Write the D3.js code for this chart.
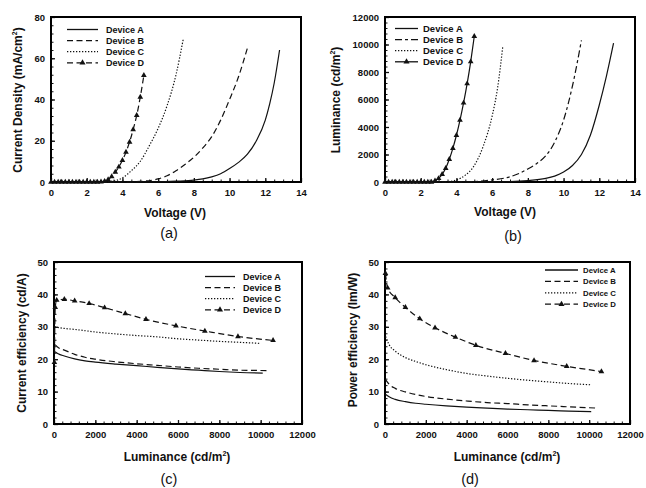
<!DOCTYPE html>
<html lang="en">
<head>
<meta charset="UTF-8">
<title>OLED device characteristics</title>
<script src="https://cdn.jsdelivr.net/npm/d3@7"></script>
<style>
  body { margin: 0; background: #fff; }
  text { font-family: Arial, "Liberation Sans", sans-serif; fill: #111; }
  .tick text { font-size: 9.5px; font-weight: bold; }
  .title { font-size: 12px; font-weight: bold; }
  .sub { font-size: 14.5px; }
  .legend text { font-weight: bold; }
</style>
</head>
<body>
<script>
// ---- data ----
var devices = ["Device A", "Device B", "Device C", "Device D"];

// (a) current density vs voltage
var jvA_V = [0, 2, 4, 6, 7, 8, 8.5, 9, 9.5, 10, 10.5, 11, 11.5, 12, 12.25, 12.5, 12.8];
var jvA_J = [0, 0, 0, 0.1, 0.4, 0.9, 1.5, 2.5, 4, 6.5, 9.5, 13.5, 20, 30, 38, 48, 64];
var jvB_V = [0, 2, 4, 5, 6, 6.5, 7, 7.5, 8, 8.5, 9, 9.5, 10, 10.5, 11];
var jvB_J = [0, 0, 0, 0.3, 1.5, 3, 5.5, 8.5, 12, 16.5, 22, 30, 40, 51, 65];
var jvC_V = [0, 2, 3, 3.5, 4, 4.5, 5, 5.5, 6, 6.5, 7, 7.4];
var jvC_J = [0, 0, 0.1, 0.5, 2, 5.5, 10, 17.5, 26, 37, 52, 69];
var jvD_V = [0, 0.2, 0.4, 0.6, 0.8, 1.0, 1.2, 1.4, 1.6, 1.8, 2.0, 2.2, 2.4, 2.6, 2.8, 3.0, 3.2, 3.4, 3.6, 3.8, 4.0, 4.2, 4.4, 4.6, 4.8, 5.0, 5.2];
var jvD_J = [0, 0, 0, 0, 0, 0, 0, 0, 0, 0, 0, 0, 0, 0, 0.1, 0.4, 1.2, 2.6, 4.8, 7.3, 10.5, 14.5, 19.4, 25.4, 32.3, 41.2, 51.7];

// (b) luminance vs voltage
var lvA_V = [0, 4, 6, 7, 8, 9, 9.5, 10, 10.5, 11, 11.5, 12, 12.4, 12.8];
var lvA_L = [0, 0, 10, 30, 100, 260, 430, 720, 1200, 2000, 3400, 5600, 7700, 10100];
var lvB_V = [0, 4, 5, 6, 7, 7.5, 8, 8.5, 9, 9.5, 10, 10.5, 11];
var lvB_L = [0, 0, 30, 150, 380, 620, 950, 1350, 1900, 2900, 4500, 7000, 10300];
var lvC_V = [0, 2, 3, 3.5, 4, 4.5, 5, 5.5, 6, 6.3, 6.6];
var lvC_L = [0, 0, 5, 30, 150, 500, 1200, 2600, 4800, 6800, 9900];
var lvD_V = [0, 0.2, 0.4, 0.6, 0.8, 1.0, 1.2, 1.4, 1.6, 1.8, 2.0, 2.2, 2.4, 2.6, 2.8, 3.0, 3.2, 3.4, 3.6, 3.8, 4.0, 4.2, 4.4, 4.6, 4.8, 5.0];
var lvD_L = [0, 0, 0, 0, 0, 0, 0, 0, 0, 0, 0, 0, 0, 0, 80, 260, 560, 1000, 1650, 2450, 3400, 4500, 5750, 7150, 8750, 10600];

// (c) current efficiency vs luminance
var ceA_L = [50, 200, 500, 1000, 1500, 2000, 3000, 4000, 5000, 6000, 7000, 8000, 9000, 10100];
var ceA_E = [22.3, 21.7, 21, 20.1, 19.5, 19.1, 18.5, 18, 17.5, 17, 16.6, 16.2, 15.9, 15.7];
var ceB_L = [50, 200, 500, 1000, 1500, 2000, 3000, 4000, 5000, 6000, 7000, 8000, 9000, 10300];
var ceB_E = [24.5, 23.6, 22.8, 21.5, 20.6, 20, 19.2, 18.6, 18.1, 17.6, 17.2, 16.9, 16.6, 16.5];
var ceC_L = [30, 500, 1000, 2000, 3000, 4000, 5000, 6000, 7000, 8000, 9000, 9950];
var ceC_E = [30, 29.5, 29.2, 28.4, 27.8, 27.3, 26.9, 26.3, 25.9, 25.5, 25.2, 24.9];
var ceD_L = [20, 60, 130, 500, 1000, 1700, 2450, 3450, 4450, 5900, 7300, 8900, 10600];
var ceD_E = [19, 36, 38.2, 38.5, 38, 37.2, 35.9, 34.1, 32.3, 30.3, 28.7, 27, 25.8];

// (d) power efficiency vs luminance
var peA_L = [20, 200, 500, 1000, 1500, 2000, 3000, 4000, 5000, 6000, 7000, 8000, 9000, 10100];
var peA_E = [9.2, 8.4, 7.6, 6.9, 6.4, 6.1, 5.6, 5.2, 4.9, 4.6, 4.4, 4.2, 4.0, 3.8];
var peB_L = [20, 200, 500, 1000, 1500, 2000, 3000, 4000, 5000, 6000, 7000, 8000, 9000, 10400];
var peB_E = [13.8, 12.3, 11, 9.9, 9.1, 8.5, 7.7, 7.1, 6.6, 6.3, 5.9, 5.6, 5.3, 4.9];
var peC_L = [30, 200, 500, 1000, 1500, 2000, 3000, 4000, 5000, 6000, 7000, 8000, 9000, 10100];
var peC_E = [27, 24.5, 22.5, 20.5, 19.3, 18.3, 16.8, 15.6, 14.8, 14.1, 13.5, 13, 12.5, 12.1];
var peD_L = [20, 130, 500, 1000, 1700, 2450, 3450, 4450, 5900, 7300, 8900, 10600];
var peD_E = [46.5, 42, 39, 36, 32.5, 29.7, 26.8, 24.3, 21.8, 19.6, 17.8, 16.2];

// tick values
var voltTicks = [0, 2, 4, 6, 8, 10, 12, 14];
var lumTicks = [0, 2000, 4000, 6000, 8000, 10000, 12000];
var jTicks = [0, 20, 40, 60, 80];
var effTicks = [0, 10, 20, 30, 40, 50];

function zip(xs, ys) { return xs.map(function (x, i) { return [x, ys[i]]; }); }

var W = 646, H = 488;
var svg = d3.select("body").append("svg").attr("width", W).attr("height", H);

var styles = {
  solid: null,
  dash: "6,3.5",
  dot: "1.3,1.7",
  dashdot: "7,3,3,3"
};

function drawPanel(p) {
  var x = d3.scaleLinear().domain(p.xDomain).range([p.l, p.r]);
  var y = d3.scaleLinear().domain(p.yDomain).range([p.b, p.t]);
  var g = svg.append("g");

  // minor ticks (inside)
  var xMinor = d3.range(p.xDomain[0], p.xDomain[1] + 1e-9, p.xMinor);
  var yMinor = d3.range(p.yDomain[0], p.yDomain[1] + 1e-9, p.yMinor);
  g.append("g").attr("transform", "translate(0," + p.b + ")")
    .call(d3.axisTop(x).tickValues(xMinor).tickSize(2.5).tickFormat(""))
    .call(function (s) { s.select(".domain").remove(); s.selectAll("line").attr("stroke", "#111"); });
  g.append("g").attr("transform", "translate(" + p.l + ",0)")
    .call(d3.axisRight(y).tickValues(yMinor).tickSize(2.5).tickFormat(""))
    .call(function (s) { s.select(".domain").remove(); s.selectAll("line").attr("stroke", "#111"); });

  // major ticks + labels
  var xa = g.append("g").attr("transform", "translate(0," + p.b + ")")
    .call(d3.axisBottom(x).tickValues(p.xTicks).tickSize(0).tickPadding(7).tickFormat(d3.format("d")));
  xa.select(".domain").remove();
  g.append("g").attr("transform", "translate(0," + p.b + ")")
    .call(d3.axisTop(x).tickValues(p.xTicks).tickSize(4).tickFormat(""))
    .call(function (s) { s.select(".domain").remove(); s.selectAll("line").attr("stroke", "#111").attr("stroke-width", 1.3); });
  var ya = g.append("g").attr("transform", "translate(" + p.l + ",0)")
    .call(d3.axisLeft(y).tickValues(p.yTicks).tickSize(0).tickPadding(6).tickFormat(d3.format("d")));
  ya.select(".domain").remove();
  g.append("g").attr("transform", "translate(" + p.l + ",0)")
    .call(d3.axisRight(y).tickValues(p.yTicks).tickSize(4).tickFormat(""))
    .call(function (s) { s.select(".domain").remove(); s.selectAll("line").attr("stroke", "#111").attr("stroke-width", 1.3); });

  // frame
  g.append("rect").attr("x", p.l).attr("y", p.t).attr("width", p.r - p.l).attr("height", p.b - p.t)
    .attr("fill", "none").attr("stroke", "#000").attr("stroke-width", 2);

  // curves
  var line = d3.line().x(function (d) { return x(d[0]); }).y(function (d) { return y(d[1]); })
    .curve(d3.curveMonotoneX);
  p.series.forEach(function (s) {
    g.append("path").datum(s.data).attr("d", line).attr("fill", "none")
      .attr("stroke", "#111").attr("stroke-width", 1.2)
      .attr("stroke-dasharray", styles[s.style]);
    if (s.marker) {
      g.selectAll(null).data(s.data).enter().append("path")
        .attr("d", d3.symbol().type(d3.symbolTriangle).size(14))
        .attr("transform", function (d) { return "translate(" + x(d[0]) + "," + y(d[1]) + ")"; })
        .attr("fill", "#111");
    }
  });

  // legend
  var lg = g.append("g").attr("class", "legend");
  p.series.forEach(function (s, i) {
    var yy = p.leg.y + i * p.leg.dy;
    lg.append("line").attr("x1", p.leg.x1).attr("x2", p.leg.x2).attr("y1", yy).attr("y2", yy)
      .attr("stroke", "#111").attr("stroke-width", 1.3).attr("stroke-dasharray", styles[s.style]);
    if (s.marker) {
      lg.append("path").attr("d", d3.symbol().type(d3.symbolTriangle).size(16))
        .attr("transform", "translate(" + (p.leg.x1 + p.leg.x2) / 2 + "," + yy + ")").attr("fill", "#111");
    }
    lg.append("text").attr("x", p.leg.tx).attr("y", yy + p.leg.fs * 0.36)
      .attr("font-size", p.leg.fs + "px").text(devices[i]);
  });

  // axis titles
  var xt = svg.append("text").attr("class", "title").attr("text-anchor", "middle")
    .attr("x", p.xTitle.x).attr("y", p.xTitle.y);
  xt.append("tspan").text(p.xTitle.text);
  if (p.xTitle.sup) {
    xt.append("tspan").attr("font-size", "7px").attr("dy", -5).text(p.xTitle.sup);
    xt.append("tspan").attr("dy", 5).text(p.xTitle.after);
  }
  var yt = svg.append("text").attr("class", "title").attr("text-anchor", "middle")
    .attr("transform", "translate(" + p.yTitle.x + "," + p.yTitle.y + ") rotate(-90)");
  yt.append("tspan").text(p.yTitle.text);
  if (p.yTitle.sup) {
    yt.append("tspan").attr("font-size", "7px").attr("dy", -5).text(p.yTitle.sup);
    yt.append("tspan").attr("dy", 5).text(p.yTitle.after);
  }
  svg.append("text").attr("class", "sub").attr("text-anchor", "middle")
    .attr("x", p.label.x).attr("y", p.label.y).text(p.label.text);
}

drawPanel({
  l: 51, t: 17, r: 301, b: 182, xDomain: [0, 14], yDomain: [0, 80],
  xTicks: voltTicks, yTicks: jTicks, xMinor: 0.5, yMinor: 4,
  series: [
    { data: zip(jvA_V, jvA_J), style: "solid" },
    { data: zip(jvB_V, jvB_J), style: "dash" },
    { data: zip(jvC_V, jvC_J), style: "dot" },
    { data: zip(jvD_V, jvD_J), style: "dash", marker: true }
  ],
  leg: { x1: 67, x2: 98, tx: 106, y: 29.5, dy: 11.1, fs: 9 },
  xTitle: { x: 175, y: 217, text: "Voltage (V)" },
  yTitle: { x: 22, y: 100, text: "Current Density (mA/cm", sup: "2", after: ")" },
  label: { x: 169, y: 238, text: "(a)" }
});

drawPanel({
  l: 385, t: 17, r: 635, b: 182, xDomain: [0, 14], yDomain: [0, 12000],
  xTicks: voltTicks, yTicks: [0, 2000, 4000, 6000, 8000, 10000, 12000], xMinor: 0.5, yMinor: 400,
  series: [
    { data: zip(lvA_V, lvA_L), style: "solid" },
    { data: zip(lvB_V, lvB_L), style: "dashdot" },
    { data: zip(lvC_V, lvC_L), style: "dot" },
    { data: zip(lvD_V, lvD_L), style: "solid", marker: true }
  ],
  leg: { x1: 395, x2: 418, tx: 423, y: 28.5, dy: 11.1, fs: 9.5 },
  xTitle: { x: 505, y: 216, text: "Voltage (V)" },
  yTitle: { x: 340, y: 100, text: "Luminance (cd/m", sup: "2", after: ")" },
  label: { x: 513, y: 241, text: "(b)" }
});

drawPanel({
  l: 54, t: 262, r: 302, b: 424, xDomain: [0, 12000], yDomain: [0, 50],
  xTicks: lumTicks, yTicks: effTicks, xMinor: 400, yMinor: 2,
  series: [
    { data: zip(ceA_L, ceA_E), style: "solid" },
    { data: zip(ceB_L, ceB_E), style: "dash" },
    { data: zip(ceC_L, ceC_E), style: "dot" },
    { data: zip(ceD_L, ceD_E), style: "dash", marker: true }
  ],
  leg: { x1: 205, x2: 235, tx: 243, y: 276.5, dy: 11.1, fs: 9 },
  xTitle: { x: 177, y: 461, text: "Luminance (cd/m", sup: "2", after: ")" },
  yTitle: { x: 26, y: 343, text: "Current efficiency (cd/A)" },
  label: { x: 169, y: 484, text: "(c)" }
});

drawPanel({
  l: 385, t: 262, r: 630, b: 424, xDomain: [0, 12000], yDomain: [0, 50],
  xTicks: lumTicks, yTicks: effTicks, xMinor: 400, yMinor: 2,
  series: [
    { data: zip(peA_L, peA_E), style: "solid" },
    { data: zip(peB_L, peB_E), style: "dash" },
    { data: zip(peC_L, peC_E), style: "dot" },
    { data: zip(peD_L, peD_E), style: "dash", marker: true }
  ],
  leg: { x1: 545, x2: 578, tx: 583, y: 270, dy: 11.4, fs: 7.8 },
  xTitle: { x: 507, y: 461, text: "Luminance (cd/m", sup: "2", after: ")" },
  yTitle: { x: 357, y: 340, text: "Power efficiency (lm/W)" },
  label: { x: 470, y: 484, text: "(d)" }
});
</script>
</body>
</html>
